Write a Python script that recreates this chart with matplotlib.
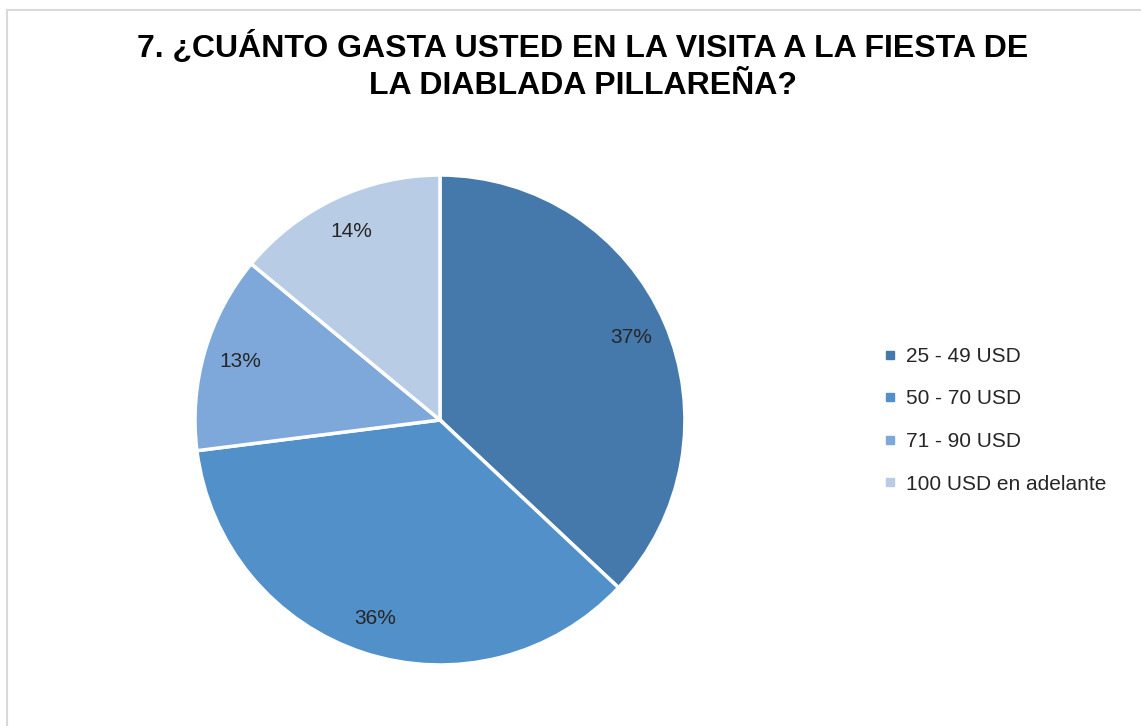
import matplotlib
matplotlib.use("Agg")
import matplotlib.pyplot as plt
from matplotlib.patches import Rectangle
from matplotlib.lines import Line2D

labels = ["25 - 49 USD", "50 - 70 USD", "71 - 90 USD", "100 USD en adelante"]
values = [37, 36, 13, 14]
colors = ["#4679AB", "#5290C9", "#7EA8DA", "#B8CCE6"]
title = "7. ¿CUÁNTO GASTA USTED EN LA VISITA A LA FIESTA DE\nLA DIABLADA PILLAREÑA?"

plt.rcParams['font.family'] = ['Liberation Sans', 'DejaVu Sans']

fig = plt.figure(figsize=(11.41, 7.26), dpi=100)
fig.patch.set_facecolor("white")

# light frame around the chart area
fig.patches.append(Rectangle((7 / 1141, -0.05), 1.2, (726 - 10) / 726 + 0.05,
                             transform=fig.transFigure, fill=False,
                             edgecolor="#d9d9d9", linewidth=1.5))

ax = fig.add_axes([0.1709, 0.084, 0.4294, 0.675])
wedges, texts, autotexts = ax.pie(
    values, colors=colors, startangle=90, counterclock=False,
    autopct=lambda p: "%d%%" % round(p), pctdistance=0.85,
    wedgeprops=dict(edgecolor="white", linewidth=2.5),
    textprops=dict(fontsize=15, color="#262626"))
ax.set_xlim(-1, 1)
ax.set_ylim(-1, 1)
ax.set_aspect("equal")

fig.text(0.511, 0.957, title, ha="center", va="top", fontsize=23,
         fontweight="bold", linespacing=1.3)

handles = [Line2D([0], [0], marker="s", linestyle="", markersize=6,
                  markerfacecolor=c, markeredgecolor=c) for c in colors]
fig.legend(handles, labels, loc="upper left", bbox_to_anchor=(0.758, 0.548),
           frameon=False, fontsize=15, handlelength=0.6, handletextpad=0.45,
           labelspacing=1.13, labelcolor="#262626")

fig.savefig("out.png", dpi=100)
